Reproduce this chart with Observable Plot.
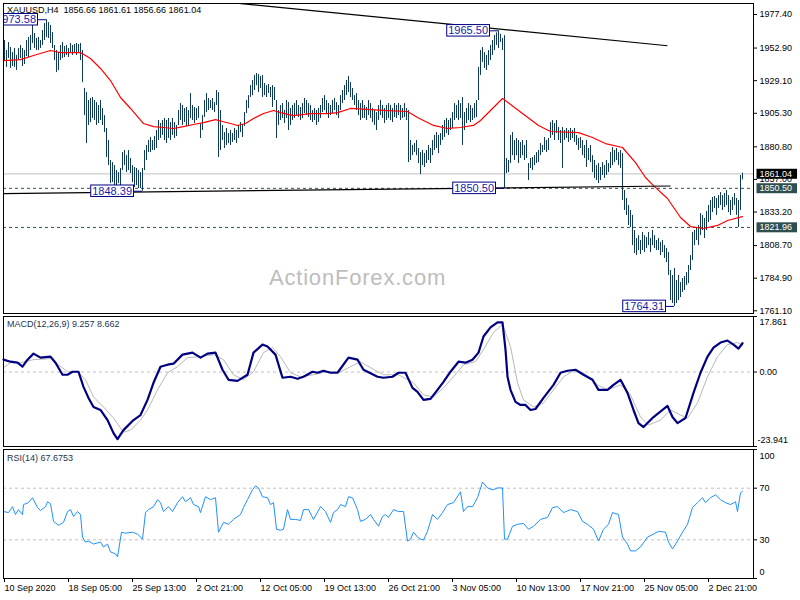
<!DOCTYPE html>
<html><head><meta charset="utf-8">
<script src="https://cdn.jsdelivr.net/npm/d3@7"></script>
<script src="https://cdn.jsdelivr.net/npm/@observablehq/plot@0.6"></script>
<style>
body{margin:0;background:#fff;}
#chart{position:relative;width:800px;height:600px;background:#fff;overflow:hidden;font-family:"Liberation Sans",Arial,sans-serif;}
#chart svg{position:absolute;left:0;}
.lbl{position:absolute;font-size:9px;white-space:pre;line-height:10px;}
</style></head><body><div id="chart"></div>
<script>
// ---------- data ----------
const dateLabels = ["10 Sep 2020","18 Sep 05:00","25 Sep 13:00","2 Oct 21:00","12 Oct 05:00","19 Oct 13:00","26 Oct 21:00","3 Nov 05:00","10 Nov 13:00","17 Nov 21:00","25 Nov 05:00","2 Dec 21:00"];
const dateTickIdx = [0,32,64,96,128,160,192,224,256,288,320,352];
const priceTicks = [1977.40,1952.90,1929.10,1905.30,1880.80,1857.00,1833.20,1808.70,1784.90,1761.10];

const barHigh = [
1958.4,1951.1,1956.9,1953.3,1949.6,1952.6,1947.5,1952.6,1954.8,1952.6,
1951.1,1958.4,1960.6,1962.1,1969.4,1963.5,1959.9,1960.6,1958.4,1965.7,
1970.8,1973.58,1971.5,1969.4,1964.2,1954.8,1951.1,1949.6,1954.8,1956.9,
1954.0,1954.8,1952.6,1956.2,1954.8,1955.5,1956.2,1955.5,1956.2,1951.1,
1923.4,1920.4,1914.6,1916.1,1916.8,1914.6,1913.1,1911.0,1914.6,1908.8,
1903.6,1894.2,1885.4,1870.8,1869.3,1867.1,1863.5,1862.0,1865.0,1876.6,
1878.1,1874.4,1878.1,1872.3,1867.1,1865.7,1865.0,1863.5,1862.0,1865.0,
1878.1,1881.8,1885.4,1887.6,1885.4,1888.3,1892.7,1900.0,1897.8,1900.0,
1901.5,1900.0,1901.5,1898.5,1901.5,1898.5,1896.4,1907.3,1912.4,1911.0,
1908.8,1909.5,1907.3,1919.7,1911.0,1909.5,1908.8,1910.2,1897.8,1903.6,
1914.6,1919.7,1916.1,1914.6,1916.1,1913.1,1921.9,1920.4,1907.3,1896.4,
1891.2,1894.2,1890.5,1892.7,1890.5,1894.2,1892.7,1896.4,1898.5,1897.1,
1905.8,1914.6,1918.2,1925.5,1929.2,1932.9,1934.3,1933.6,1932.1,1932.9,
1927.0,1925.5,1926.3,1924.1,1925.5,1924.1,1914.6,1907.3,1911.0,1912.4,
1907.3,1914.6,1913.1,1908.8,1911.0,1912.4,1914.6,1911.0,1909.5,1912.4,
1916.1,1914.6,1912.4,1911.0,1907.3,1908.8,1907.3,1908.8,1911.0,1916.1,
1918.2,1914.6,1912.4,1911.0,1914.6,1916.1,1913.1,1911.0,1918.2,1921.9,
1925.5,1929.2,1932.1,1927.7,1923.4,1918.2,1919.7,1914.6,1912.4,1914.6,
1911.0,1909.5,1914.6,1912.4,1908.8,1907.3,1905.8,1911.0,1914.6,1911.0,
1908.8,1911.0,1912.4,1911.0,1908.8,1912.4,1911.0,1912.4,1911.0,1908.8,
1912.4,1908.8,1907.3,1885.4,1881.8,1883.2,1885.4,1879.6,1876.6,1878.1,
1875.9,1878.1,1881.8,1879.6,1885.4,1889.1,1891.2,1889.1,1890.5,1896.4,
1900.0,1901.5,1900.0,1901.5,1905.8,1912.4,1911.0,1914.6,1912.4,1916.8,
1905.8,1908.8,1912.4,1911.0,1908.8,1912.4,1914.6,1938.7,1951.1,1953.3,
1949.6,1947.5,1951.1,1954.8,1958.4,1962.1,1964.0,1965.5,1963.0,1959.9,
1962.0,1872.3,1870.8,1889.1,1891.2,1885.4,1886.9,1885.4,1883.9,1885.4,
1881.8,1885.4,1868.6,1872.3,1873.0,1874.4,1876.6,1878.1,1883.2,1881.8,
1887.6,1885.4,1886.9,1898.5,1900.0,1897.8,1900.0,1894.9,1892.7,1894.9,
1892.7,1894.2,1892.7,1894.2,1892.7,1894.2,1889.1,1886.9,1887.6,1885.4,
1881.8,1885.4,1879.6,1881.8,1874.4,1870.8,1867.1,1868.6,1865.7,1869.3,
1867.1,1870.8,1868.6,1876.6,1880.3,1878.1,1879.6,1876.6,1878.1,1875.9,
1848.9,1843.1,1838.0,1834.3,1830.7,1819.7,1813.9,1816.0,1812.4,1818.3,
1816.0,1814.6,1818.3,1813.9,1819.7,1816.0,1812.4,1813.9,1811.0,1812.4,
1808.7,1806.6,1803.6,1790.5,1786.9,1792.0,1783.2,1786.9,1781.7,1784.7,
1786.1,1789.0,1794.2,1801.4,1818.3,1819.7,1821.2,1823.4,1832.1,1830.7,
1828.5,1833.6,1838.0,1841.6,1843.8,1844.5,1843.1,1845.2,1847.4,1845.2,
1846.7,1848.9,1845.2,1841.6,1843.8,1846.7,1843.1,1841.6,1859.9,1861.61];

const barLow = [
1943.8,1938.7,1945.3,1938.0,1939.4,1938.7,1936.5,1943.8,1945.3,1939.4,
1940.9,1946.7,1946.0,1951.1,1956.2,1952.6,1951.1,1951.1,1952.6,1954.8,
1958.4,1960.6,1959.9,1956.2,1952.6,1943.8,1935.0,1936.5,1943.8,1945.3,
1946.0,1947.5,1946.0,1948.9,1947.5,1949.6,1947.5,1948.9,1943.8,1927.7,
1903.6,1883.2,1896.4,1898.5,1901.5,1900.0,1896.4,1897.8,1900.0,1896.4,
1891.2,1873.0,1867.1,1854.0,1854.7,1852.5,1850.4,1854.0,1852.5,1863.5,
1867.1,1862.0,1863.5,1861.3,1854.7,1851.1,1852.5,1850.4,1850.4,1848.39,
1863.5,1870.8,1876.6,1876.6,1878.1,1878.1,1879.6,1885.4,1886.9,1889.1,
1885.4,1883.2,1886.9,1885.4,1889.1,1886.9,1888.3,1896.4,1900.0,1896.4,
1898.5,1895.6,1896.4,1901.5,1900.0,1897.8,1900.0,1901.5,1886.9,1892.7,
1902.2,1905.8,1907.3,1908.8,1907.3,1905.8,1911.0,1873.0,1878.1,1885.4,
1879.6,1881.8,1883.2,1881.8,1884.0,1885.4,1883.2,1886.9,1891.2,1887.6,
1895.6,1905.1,1908.8,1916.8,1918.2,1921.9,1925.5,1920.4,1923.4,1916.8,
1918.2,1916.8,1919.7,1916.8,1909.5,1914.6,1886.9,1896.4,1900.0,1901.5,
1897.8,1901.5,1892.7,1896.4,1900.0,1901.5,1903.6,1902.2,1900.0,1901.5,
1905.1,1903.6,1902.2,1900.0,1898.5,1900.0,1896.4,1898.5,1901.5,1905.8,
1907.3,1905.1,1901.5,1903.6,1905.1,1907.3,1903.6,1901.5,1907.3,1912.4,
1914.6,1918.2,1920.4,1916.8,1914.6,1911.0,1907.3,1903.6,1900.0,1901.5,
1901.5,1900.0,1903.6,1901.5,1898.5,1896.4,1892.7,1900.0,1903.6,1901.5,
1897.8,1900.0,1901.5,1900.0,1898.5,1902.2,1901.5,1903.6,1900.0,1901.5,
1902.2,1900.0,1869.3,1870.8,1874.4,1876.6,1874.4,1868.6,1860.6,1867.1,
1865.7,1868.6,1870.8,1868.6,1874.4,1878.1,1879.6,1875.9,1881.8,1885.4,
1887.6,1890.5,1889.1,1892.7,1894.2,1900.0,1901.5,1900.0,1901.5,1881.8,
1892.7,1897.8,1900.0,1898.5,1900.0,1901.5,1902.2,1914.6,1932.9,1942.4,
1938.0,1936.5,1940.2,1943.8,1947.5,1951.1,1954.8,1952.6,1956.9,1951.1,
1850.5,1861.3,1862.0,1868.6,1874.4,1870.8,1874.4,1868.6,1872.3,1874.4,
1870.8,1872.3,1856.2,1865.0,1863.5,1867.1,1868.6,1869.3,1874.4,1876.6,
1878.1,1876.6,1878.1,1886.9,1889.1,1885.4,1890.5,1885.4,1883.2,1865.0,
1885.4,1886.9,1884.0,1885.4,1886.9,1884.0,1881.8,1878.1,1879.6,1874.4,
1872.3,1865.7,1870.8,1869.3,1862.0,1857.7,1856.2,1854.0,1856.2,1859.9,
1857.7,1859.9,1862.0,1865.0,1867.1,1869.3,1870.8,1867.1,1865.0,1841.6,
1834.3,1830.7,1823.4,1821.9,1808.7,1802.9,1801.4,1805.1,1802.2,1805.1,
1803.6,1806.6,1808.7,1803.6,1808.7,1806.6,1805.1,1805.1,1801.4,1803.6,
1799.3,1796.3,1786.9,1768.6,1766.4,1764.31,1766.4,1768.6,1770.8,1774.5,
1775.9,1779.6,1781.0,1790.5,1797.8,1808.7,1812.4,1808.7,1816.0,1819.7,
1813.9,1819.7,1825.5,1827.0,1832.8,1835.8,1830.7,1835.8,1838.0,1834.3,
1836.5,1838.0,1832.8,1830.7,1834.3,1838.0,1830.7,1821.96,1834.3,1856.66];

const maLine = [[-0.5,1943.8],[8,1944.5],[14.5,1947.5],[23,1951.1],[28,1949.6],[38,1949.6],[43,1945.3],[48,1938.0],[53,1929.2],[58,1916.8],[63,1908.8],[69.5,1897.8],[74.5,1895.6],[79.5,1894.9],[84.5,1894.2],[89.5,1895.6],[94.5,1897.1],[99.5,1898.5],[105.5,1900.7],[109,1899.3],[113,1897.8],[116.5,1896.4],[120.5,1897.8],[124.5,1901.5],[129.5,1905.1],[134.5,1907.3],[138,1905.8],[144.5,1903.6],[153,1905.1],[161.5,1905.1],[166.5,1905.8],[173,1908.8],[183,1908.0],[191.5,1907.3],[201.5,1906.6],[206.5,1902.2],[214.5,1896.4],[221.5,1894.2],[228,1894.9],[234.5,1896.4],[238,1900.0],[244.5,1909.5],[249,1916.1],[259,1905.1],[267,1896.4],[273,1892.0],[287,1891.2],[294,1887.6],[300.5,1883.2],[309,1880.3],[315.5,1869.3],[320.5,1858.4],[324.5,1852.5],[331.5,1843.1],[338,1829.2],[343,1822.6],[349.5,1821.2],[356.5,1823.4],[361.5,1827.0],[369,1829.9]];

const trendLines = [
  {i1:100, p1:1988.0, i2:331.5, p2:1954.6},
  {i1:-0.5, p1:1846.7, i2:333, p2:1852.2}
];
const levelLines = [1850.50, 1821.96];
const lastPrice = 1861.04;
const extremes = [
  {i:21, price:1973.58},
  {i:247, price:1965.50},
  {i:69, price:1848.39},
  {i:250, price:1850.50},
  {i:335, price:1764.31}
];
const badgePrices = [1861.04, 1850.50, 1821.96];
const badgeFills = ["#000000", "#2f4f4f", "#2f4f4f"];

const macdLine = [[-0.5,3.98],[3,3.33],[6.5,3.01],[9,1.72],[11.5,3.98],[14.5,5.92],[18,4.63],[23,4.95],[25.5,3.01],[29,-0.87],[31.5,-0.87],[34,0.10],[37,0.10],[39.5,-4.76],[42,-8.32],[44.5,-11.23],[48,-12.20],[51.5,-15.44],[54.5,-19.64],[56.5,-21.59],[59.5,-18.67],[64.5,-15.44],[68,-13.82],[71.5,-8.96],[74.5,-3.46],[78,1.72],[81.5,2.36],[84.5,2.69],[89,5.60],[94,6.25],[98,4.63],[101.5,5.92],[105.5,6.25],[109,0.74],[112,-2.49],[116.5,-2.82],[121.5,-0.87],[124.5,6.25],[129,8.83],[131.5,8.19],[135.5,5.60],[139,-1.84],[143,-1.52],[146.5,-2.17],[149.5,-1.52],[154,0.10],[156.5,-0.23],[159.5,0.42],[163,-0.23],[166.5,-0.23],[172,4.63],[176.5,3.98],[179.5,0.74],[186.5,-1.52],[189.5,-1.84],[194,-1.52],[197,-0.23],[200.5,-0.23],[204,-5.08],[206.5,-6.38],[209.5,-8.96],[213,-8.64],[216.5,-5.73],[219.5,-3.14],[223,0.10],[227,3.33],[230.5,3.01],[234,3.98],[237,6.25],[239.5,11.42],[243,14.34],[246.5,15.95],[249,15.95],[250.5,7.22],[251.5,-1.52],[253,-5.73],[255.5,-9.61],[258,-10.58],[260.5,-10.58],[263,-12.20],[265.5,-11.88],[269.5,-8.32],[274.5,-4.11],[278,-0.23],[281.5,0.42],[285.5,0.74],[289.5,-0.87],[294,-2.49],[297,-5.73],[301.5,-5.73],[304.5,-4.11],[308,-2.49],[311.5,-6.70],[314.5,-12.20],[317,-16.41],[319.5,-17.70],[324.5,-14.47],[331.5,-10.91],[334,-14.47],[336.5,-16.41],[340.5,-14.79],[344.5,-6.70],[348,-0.23],[351.5,4.95],[354.5,7.86],[358,9.48],[361.5,10.13],[364.5,8.83],[367,7.54],[369,9.26]];

const signalLine = [[-0.5,1.39],[3,3.01],[8,3.01],[14.5,3.98],[23,4.30],[27,2.36],[31.5,0.10],[36.5,0.10],[40.5,-2.49],[44.5,-7.99],[49.5,-11.23],[54.5,-14.79],[59.5,-19.32],[63,-18.67],[68,-15.44],[71.5,-12.20],[76.5,-5.73],[81.5,-0.23],[86.5,1.72],[91.5,4.63],[98,4.95],[104.5,5.60],[109.5,3.98],[114.5,-0.87],[119.5,-2.49],[124.5,0.10],[129.5,6.25],[134,7.86],[138,4.95],[143,-0.23],[148,-1.52],[154.5,-0.87],[161.5,0.10],[168,0.10],[173,1.72],[178,3.33],[183,1.39],[189.5,-0.87],[197,-0.87],[204.5,-3.46],[209.5,-7.35],[214.5,-7.99],[219.5,-5.08],[224.5,-1.52],[229.5,2.36],[235.5,3.33],[239.5,7.22],[244.5,12.72],[249,15.31],[253,8.19],[256.5,-3.46],[259.5,-8.96],[264.5,-11.23],[269.5,-9.94],[274.5,-5.73],[279.5,-1.52],[284.5,0.42],[289.5,-0.23],[296.5,-4.11],[301.5,-5.73],[308,-4.11],[313,-7.35],[318,-14.47],[322,-17.05],[328,-15.44],[333,-12.20],[338,-13.82],[341.5,-14.79],[346.5,-9.94],[351.5,-1.52],[356.5,4.95],[361.5,8.83],[366.5,9.48],[369,8.66]];
const macdTicks = [17.861, 0, -23.941];

const rsiLine = [[-0.5,51.9],[2,51.1],[4,55.7],[5.5,49.6],[7,53.4],[9,49.6],[9.5,57.3],[12,58.8],[14,62.6],[16.5,55.0],[18,52.7],[20.5,55.7],[21.5,59.5],[23,58.0],[24.5,44.3],[27,41.2],[29.5,43.5],[31.5,51.9],[33,53.4],[34.5,48.1],[36.5,51.9],[38,49.6],[39,32.1],[40.5,28.2],[42,29.0],[44.5,26.7],[48,28.2],[49.5,24.4],[51.5,26.7],[53,20.6],[55.5,19.1],[56.5,16.8],[57,21.4],[58.5,35.9],[60.5,35.1],[64,35.9],[66.5,34.4],[69,30.5],[70.5,51.1],[72,53.4],[74.5,55.7],[76.5,61.1],[78,58.8],[79.5,51.9],[82,55.7],[84,51.9],[86.5,58.8],[89,63.4],[90.5,59.5],[93,62.6],[94.5,57.3],[97,55.7],[98,51.1],[100.5,63.4],[103,61.1],[105.5,62.6],[107,35.9],[109.5,43.5],[112,42.0],[114.5,45.8],[118,49.6],[119.5,55.0],[121.5,61.1],[124,68.7],[125.5,71.8],[127,70.2],[129,63.4],[131.5,62.6],[133,57.3],[134.5,58.8],[136,38.2],[138,37.4],[139.5,38.2],[141.5,53.4],[143,45.8],[145.5,45.8],[148,45.0],[149.5,53.4],[152,53.4],[154.5,45.8],[158,55.7],[160.5,51.9],[163,43.5],[164.5,51.1],[166.5,53.4],[168,57.3],[170.5,55.7],[172,63.4],[174,62.6],[176.5,53.4],[178,44.3],[180.5,45.8],[183,49.6],[184.5,45.8],[187,40.5],[189,48.1],[190.5,49.6],[192,47.3],[194.5,53.4],[197,51.9],[199.5,51.9],[201.5,29.0],[203,30.5],[204.5,35.9],[206.5,32.1],[208,30.5],[209.5,29.8],[211.5,36.6],[214,49.6],[216.5,45.8],[219,51.1],[221.5,57.3],[224.5,58.8],[228,67.2],[229.5,51.9],[231.5,55.7],[234,55.7],[236.5,62.6],[239,74.8],[241.5,70.2],[244,68.7],[246.5,70.2],[249,70.2],[250,30.5],[251.5,30.5],[254,40.5],[256.5,42.0],[259.5,42.7],[262,38.2],[264.5,40.5],[268,45.8],[271.5,47.3],[274,55.0],[276.5,55.7],[279.5,51.1],[283,53.4],[286.5,51.9],[289,44.3],[291.5,42.0],[294.5,38.2],[297,29.0],[299.5,38.2],[302,42.0],[304,51.1],[307,49.6],[309,32.1],[311.5,26.7],[313,21.4],[315.5,21.4],[318,24.4],[321.5,32.1],[324.5,34.4],[327,36.6],[330.5,35.9],[332,28.2],[334,22.9],[336.5,29.0],[339,35.9],[341.5,42.0],[344,55.0],[346.5,58.8],[349,62.6],[350.5,58.8],[353,62.6],[355.5,64.9],[358,61.1],[360.5,58.8],[363,57.3],[365.5,59.5],[366.5,51.9],[368,66.4],[369,67.7]];
const rsiLevels = [70, 30];

// ---------- build ----------
const chart = document.getElementById("chart");
const bars = barHigh.map((h, i) => ({i, high: h, low: barLow[i]}));
const X = {domain: [-0.5, 374.5], axis: null};
const baseStyle = {fontFamily: '"Liberation Sans", Arial, sans-serif', fontSize: "9px", background: "transparent", color: "#000"};
const fmt2 = d3.format(".2f");

function place(svg, top) { svg.style.top = top + "px"; chart.appendChild(svg); return svg; }

function boxify(svg, cls, fills, strokes, padL, padR, h) {
  svg.querySelectorAll(`g.${cls} text`).forEach((t, k) => {
    const bb = t.getBBox();
    const cy = bb.y + bb.height / 2;
    const r = document.createElementNS("http://www.w3.org/2000/svg", "rect");
    r.setAttribute("x", bb.x - padL);
    r.setAttribute("y", cy - h / 2);
    r.setAttribute("width", bb.width + padL + padR);
    r.setAttribute("height", h);
    r.setAttribute("fill", fills(k));
    if (strokes) { r.setAttribute("stroke", strokes(k)); r.setAttribute("stroke-width", 1); }
    const tr = t.getAttribute("transform"); if (tr) r.setAttribute("transform", tr);
    t.parentNode.insertBefore(r, t);
  });
}

// price panel
const pricePlot = Plot.plot({
  width: 800, height: 317,
  marginLeft: 3, marginRight: 47, marginTop: 3, marginBottom: 4,
  x: X,
  y: {domain: [1759.13, 1985.43]},
  style: baseStyle,
  marks: [
    Plot.ruleY([lastPrice], {stroke: "#c0c0c0"}),
    Plot.ruleY(levelLines, {stroke: "#2f4f4f", strokeDasharray: "3,3"}),
    Plot.ruleX(bars, {x: "i", y1: "low", y2: "high", stroke: "#0f3b57"}),
    Plot.line(maLine, {x: d => d[0], y: d => d[1], stroke: "#ff0000", strokeWidth: 1.2}),
    Plot.link(trendLines, {x1: "i1", y1: "p1", x2: "i2", y2: "p2", stroke: "#000", strokeWidth: 1.2, clip: "frame"}),
    Plot.ruleY(extremes, {y: "price", x1: d => d.i - 4.5, x2: "i", stroke: "#000080"}),
    Plot.text(extremes, {x: "i", y: "price", text: d => fmt2(d.price), textAnchor: "end", dx: -10.5, fill: "#1a1aa8", fontSize: 11, clip: "frame", className: "xlbl"}),
    Plot.axisY({anchor: "right", ticks: priceTicks, tickFormat: fmt2, tickSize: 3, tickPadding: 3, label: null}),
    Plot.text(badgePrices, {y: d => d, text: d => fmt2(d), frameAnchor: "right", dx: 6, textAnchor: "start", fill: "#fff", className: "badge"}),
    Plot.frame({stroke: "#000"})
  ]
});
place(pricePlot, 0);
boxify(pricePlot, "xlbl", () => "#fff", () => "#000080", 1.5, 1.5, 11.5);
boxify(pricePlot, "badge", k => badgeFills[k], null, 3, 5, 10);

// MACD panel
const macdPlot = Plot.plot({
  width: 800, height: 134,
  marginLeft: 3, marginRight: 47, marginTop: 3, marginBottom: 1,
  x: X,
  y: {domain: [-23.941, 17.861]},
  style: baseStyle,
  marks: [
    Plot.ruleY([0], {stroke: "#c0c0c0", strokeDasharray: "3,3"}),
    Plot.line(signalLine, {x: d => d[0], y: d => d[1], stroke: "#b8b8b8", strokeWidth: 1}),
    Plot.line(macdLine, {x: d => d[0], y: d => d[1], stroke: "#000080", strokeWidth: 2.2}),
    Plot.axisY({anchor: "right", ticks: macdTicks, tickFormat: () => "", tickSize: 3, label: null}),
    Plot.axisY({anchor: "right", ticks: [macdTicks[0]], tickFormat: d => String(d), tickSize: 0, tickPadding: 6, dy: 6, label: null}),
    Plot.axisY({anchor: "right", ticks: [macdTicks[1]], tickFormat: fmt2, tickSize: 0, tickPadding: 6, label: null}),
    Plot.axisY({anchor: "right", ticks: [macdTicks[2]], tickFormat: d => String(d), tickSize: 0, tickPadding: 4, dy: -6, label: null}),
    Plot.frame({stroke: "#000"})
  ]
});
place(macdPlot, 313);

// RSI panel
const rsiPlot = Plot.plot({
  width: 800, height: 154,
  marginLeft: 3, marginRight: 47, marginTop: 3, marginBottom: 22,
  x: X,
  y: {domain: [0, 100]},
  style: baseStyle,
  marks: [
    Plot.ruleY(rsiLevels, {stroke: "#c0c0c0", strokeDasharray: "3,3"}),
    Plot.line(rsiLine, {x: d => d[0], y: d => d[1], stroke: "#1e90ff", strokeWidth: 1}),
    Plot.axisY({anchor: "right", ticks: [100, 70, 30, 0], tickFormat: () => "", tickSize: 3, label: null}),
    Plot.axisY({anchor: "right", ticks: [100], tickSize: 0, tickPadding: 6, dy: 7, label: null}),
    Plot.axisY({anchor: "right", ticks: rsiLevels, tickSize: 0, tickPadding: 6, label: null}),
    Plot.axisY({anchor: "right", ticks: [0], tickSize: 0, tickPadding: 6, dy: -6, label: null}),
    Plot.axisX({anchor: "bottom", ticks: dateTickIdx, tickFormat: d => dateLabels[dateTickIdx.indexOf(d)], tickSize: 4, tickPadding: 2, textAnchor: "start", dx: 0, label: null}),
    Plot.frame({stroke: "#000"})
  ]
});
place(rsiPlot, 446);

// texts
function addText(txt, left, top, css) {
  const d = document.createElement("div");
  d.className = "lbl"; d.textContent = txt;
  d.style.left = left + "px"; d.style.top = top + "px";
  Object.assign(d.style, css || {});
  chart.appendChild(d);
}
addText("XAUUSD,H4  1856.66 1861.61 1856.66 1861.04", 7, 5, {color: "#000"});
addText("MACD(12,26,9) 9.257 8.662", 7, 319, {color: "#1b3550"});
addText("RSI(14) 67.6753", 7, 453, {color: "#1b3550"});
addText("ActionForex.com", 269, 265, {fontSize: "22px", lineHeight: "25px", color: "#bdbdbd", letterSpacing: "0.8px"});
</script></body></html>
